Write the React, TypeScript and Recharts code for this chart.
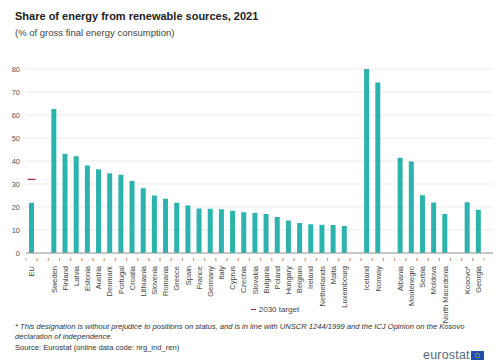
import React from "react";
import { ComposedChart, Bar, Scatter, XAxis, YAxis, CartesianGrid, Legend } from "recharts";

const categories = [
  "EU", "", "Sweden", "Finland", "Latvia", "Estonia", "Austria", "Denmark", "Portugal", "Croatia",
  "Lithuania", "Slovenia", "Romania", "Greece", "Spain", "France", "Germany", "Italy", "Cyprus",
  "Czechia", "Slovakia", "Bulgaria", "Poland", "Hungary", "Belgium", "Ireland", "Netherlands",
  "Malta", "Luxembourg", "", "Iceland", "Norway", "", "Albania", "Montenegro", "Serbia", "Moldova",
  "North Macedonia", "", "Kosovo*", "Georgia",
];

const shares: (number | null)[] = [
  21.8, null, 62.6, 43.1, 42.1, 38.0, 36.4, 34.7, 34.0, 31.3,
  28.2, 25.0, 23.6, 21.9, 20.7, 19.3, 19.2, 19.0, 18.4,
  17.7, 17.4, 17.0, 15.6, 14.1, 13.0, 12.5, 12.3,
  12.2, 11.7, null, 85.8, 74.1, null, 41.4, 39.8, 25.1, 22.0,
  17.0, null, 22.1, 18.8,
];

const targets: (number | null)[] = categories.map((c) => (c === "EU" ? 32 : null));

const yTicks = [0, 10, 20, 30, 40, 50, 60, 70, 80];

const data = categories.map((name, i) => ({
  key: `k${i}`,
  name,
  share: shares[i],
  target: targets[i],
}));

const BAR = "#2db3ad";
const TARGET = "#a8283c";
const FONT = "Liberation Sans, Arial, sans-serif";

const XTick = (props: any) => {
  const { x, y, index } = props;
  const label = categories[index] ?? "";
  return (
    <g>
      <line x1={x - 5.6} x2={x - 5.6} y1={y - 3} y2={y} stroke="#d9966a" strokeWidth={0.8} />
      <line x1={x + 5.6} x2={x + 5.6} y1={y - 3} y2={y} stroke="#d9966a" strokeWidth={0.8} />
      {label ? (
        <text
          x={x}
          y={y + 5}
          transform={`rotate(-90, ${x}, ${y + 5})`}
          textAnchor="end"
          dy="0.35em"
          fontSize={7.5}
          fill="#444"
          fontFamily={FONT}
        >
          {label}
        </text>
      ) : null}
    </g>
  );
};

const TargetShape = (props: any) => {
  const { cx, cy } = props;
  if (cx == null || cy == null) return <g />;
  return <line x1={cx - 4} x2={cx + 4} y1={cy} y2={cy} stroke={TARGET} strokeWidth={1.3} />;
};

const LegendContent = () => (
  <div style={{ fontFamily: FONT, fontSize: 8, color: "#444", display: "flex", alignItems: "center", justifyContent: "center" }}>
    <span style={{ display: "inline-block", width: 5, height: 1.3, background: TARGET, marginRight: 3 }} />
    2030 target
  </div>
);

export default function App() {
  return (
    <div style={{ position: "absolute", left: 0, top: 0, width: 500, height: 362, background: "#fff", fontFamily: FONT }}>
      <div style={{ position: "absolute", left: 15, top: 10, fontSize: 11, fontWeight: "bold", color: "#222" }}>
        Share of energy from renewable sources, 2021
      </div>
      <div style={{ position: "absolute", left: 15, top: 27, fontSize: 9.5, color: "#444" }}>
        (% of gross final energy consumption)
      </div>
      <ComposedChart
        width={500}
        height={362}
        data={data}
        margin={{ top: 60, right: 7, bottom: 49, left: 0 }}
      >
        <CartesianGrid vertical={false} stroke="#ebebeb" />
        <XAxis
          dataKey="key"
          interval={0}
          height={60}
          tick={<XTick />}
          tickLine={false}
          axisLine={{ stroke: "#999" }}
          padding={{ left: 0, right: 9 }}
        />
        <YAxis
          domain={[0, 80]}
          ticks={yTicks}
          allowDataOverflow
          width={26}
          axisLine={false}
          tickLine={false}
          tickSize={0}
          tickMargin={6}
          tick={{ fontSize: 7.5, fill: "#555", fontFamily: FONT }}
        />
        <Bar dataKey="share" fill={BAR} barSize={5} isAnimationActive={false} legendType="none" />
        <Scatter dataKey="target" name="2030 target" shape={<TargetShape />} isAnimationActive={false} />
        <Legend
          verticalAlign="top"
          content={<LegendContent />}
          wrapperStyle={{ position: "absolute", top: 305, left: 210, width: 130 }}
        />
      </ComposedChart>
      <div style={{ position: "absolute", left: 15, top: 322, fontSize: 7.6, color: "#333", fontStyle: "italic", lineHeight: "10px", width: 480 }}>
        * This designation is without prejudice to positions on status, and is in line with UNSCR 1244/1999 and the ICJ Opinion on the Kosovo declaration of independence.
      </div>
      <div style={{ position: "absolute", left: 15, top: 343, fontSize: 7.6, color: "#333" }}>
        Source: Eurostat (online data code: nrg_ind_ren)
      </div>
      <div style={{ position: "absolute", left: 423, top: 348, display: "flex", alignItems: "center" }}>
        <span style={{ fontSize: 12.5, color: "#5a6a7a", letterSpacing: 0.2 }}>eurostat</span>
        <span style={{ display: "inline-block", width: 13, height: 9, background: "#1f4fa8", marginLeft: 1, position: "relative" }}>
          <span style={{ position: "absolute", left: 4, top: 2, width: 5, height: 5, borderRadius: "50%", border: "1px dotted #f5d000", boxSizing: "border-box" }} />
        </span>
      </div>
    </div>
  );
}
